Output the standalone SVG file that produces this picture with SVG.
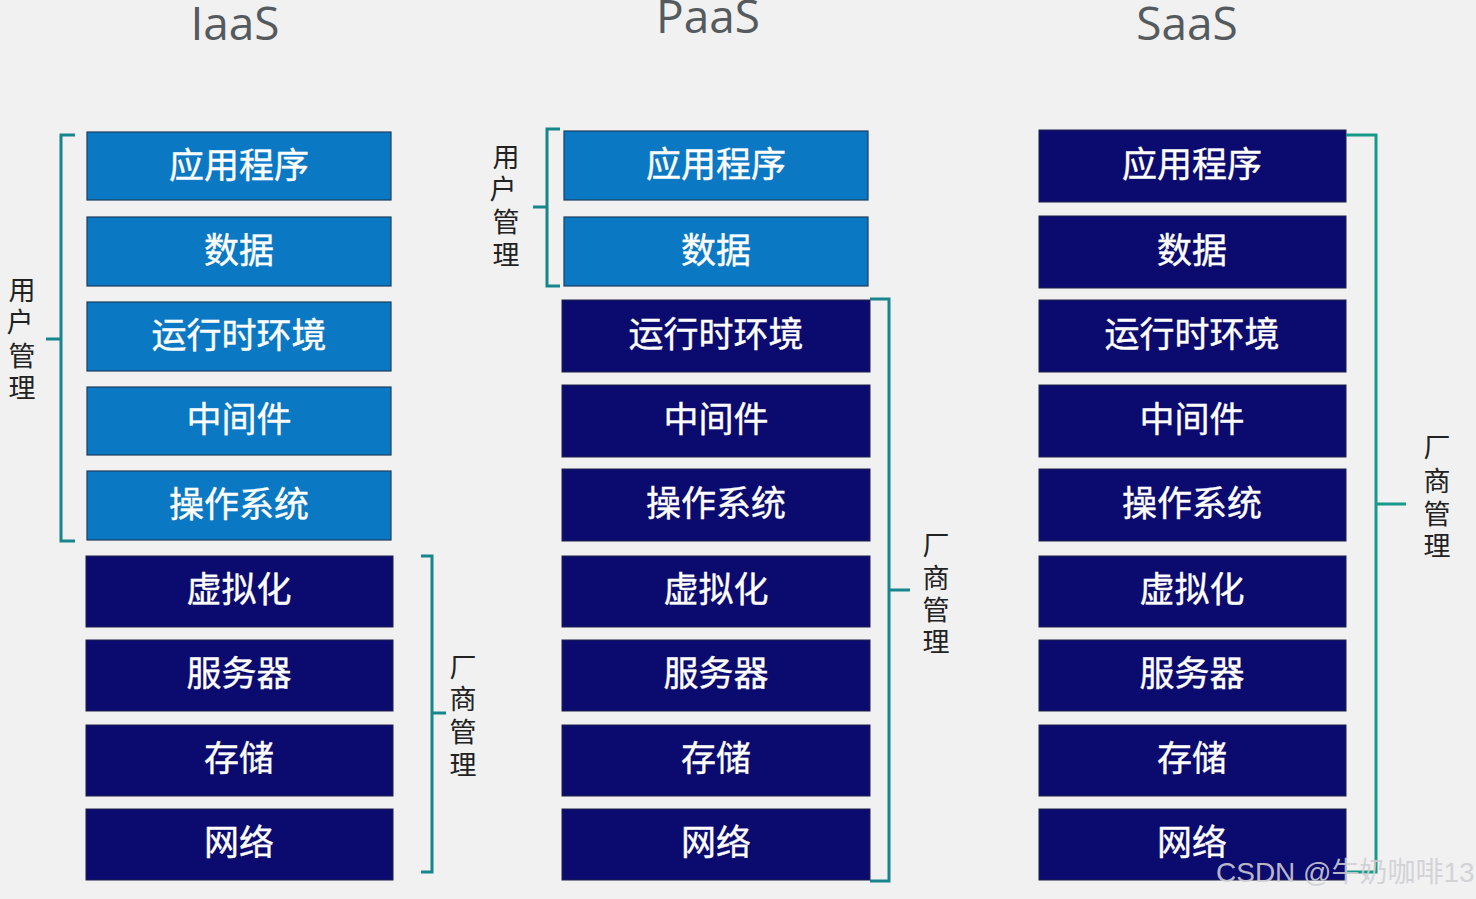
<svg xmlns="http://www.w3.org/2000/svg" width="1476" height="899" viewBox="0 0 1476 899">
<style>
.lb{fill:#0b78c4;stroke:#1d3c5e;stroke-width:1.2}
.db{fill:#0b0a6e;stroke:#20204a;stroke-width:1}
.bt{fill:#ffffff;font-family:"Noto Sans CJK SC","Noto Sans",sans-serif;font-size:35px;text-anchor:middle;stroke:#ffffff;stroke-width:0.4}
.ttl{fill:#555a5e;font-family:"Open Sans","Liberation Sans",sans-serif;font-size:46px;text-anchor:middle}
.vl{fill:#222;font-family:"Noto Sans CJK SC",sans-serif;font-size:27px;text-anchor:middle}
.br{fill:none;stroke:#17868c;stroke-width:3}
.br2{fill:none;stroke:#169a88;stroke-width:3}
.wm{fill:#cfcfd4;fill-opacity:0.9;font-family:"Liberation Sans","Noto Sans CJK SC",sans-serif;font-size:28px}
</style>
<rect width="1476" height="899" fill="#f1f1f1"/>
<text class="ttl" x="235" y="40">IaaS</text>
<text class="ttl" x="708" y="33">PaaS</text>
<text class="ttl" x="1187" y="40">SaaS</text>

<g id="iaas">
<g id="i1"><rect class="lb" x="87" y="132" width="304" height="68"/><text class="bt" x="239" y="178">应用程序</text></g>
<g id="i2"><rect class="lb" x="87" y="217" width="304" height="69"/><text class="bt" x="239" y="263">数据</text></g>
<g id="i3"><rect class="lb" x="87" y="302" width="304" height="69"/><text class="bt" x="239" y="348">运行时环境</text></g>
<g id="i4"><rect class="lb" x="87" y="387" width="304" height="68"/><text class="bt" x="239" y="432">中间件</text></g>
<g id="i5"><rect class="lb" x="87" y="471" width="304" height="69"/><text class="bt" x="239" y="517">操作系统</text></g>
<g id="i6"><rect class="db" x="86" y="556" width="307" height="71"/><text class="bt" x="239" y="602">虚拟化</text></g>
<g id="i7"><rect class="db" x="86" y="640" width="307" height="71"/><text class="bt" x="239" y="686">服务器</text></g>
<g id="i8"><rect class="db" x="86" y="725" width="307" height="71"/><text class="bt" x="239" y="771">存储</text></g>
<g id="i9"><rect class="db" x="86" y="809" width="307" height="71"/><text class="bt" x="239" y="855">网络</text></g>
</g>

<g id="paas">
<g id="p1"><rect class="lb" x="564" y="131" width="304" height="69"/><text class="bt" x="716" y="177">应用程序</text></g>
<g id="p2"><rect class="lb" x="564" y="217" width="304" height="69"/><text class="bt" x="716" y="263">数据</text></g>
<g id="p3"><rect class="db" x="562" y="300" width="308" height="72"/><text class="bt" x="716" y="347">运行时环境</text></g>
<g id="p4"><rect class="db" x="562" y="385" width="308" height="72"/><text class="bt" x="716" y="432">中间件</text></g>
<g id="p5"><rect class="db" x="562" y="469" width="308" height="72"/><text class="bt" x="716" y="516">操作系统</text></g>
<g id="p6"><rect class="db" x="562" y="556" width="308" height="71"/><text class="bt" x="716" y="602">虚拟化</text></g>
<g id="p7"><rect class="db" x="562" y="640" width="308" height="71"/><text class="bt" x="716" y="686">服务器</text></g>
<g id="p8"><rect class="db" x="562" y="725" width="308" height="71"/><text class="bt" x="716" y="771">存储</text></g>
<g id="p9"><rect class="db" x="562" y="809" width="308" height="71"/><text class="bt" x="716" y="855">网络</text></g>
</g>

<g id="saas">
<g id="s1"><rect class="db" x="1039" y="130" width="307" height="72"/><text class="bt" x="1192" y="177">应用程序</text></g>
<g id="s2"><rect class="db" x="1039" y="216" width="307" height="72"/><text class="bt" x="1192" y="263">数据</text></g>
<g id="s3"><rect class="db" x="1039" y="300" width="307" height="72"/><text class="bt" x="1192" y="347">运行时环境</text></g>
<g id="s4"><rect class="db" x="1039" y="385" width="307" height="72"/><text class="bt" x="1192" y="432">中间件</text></g>
<g id="s5"><rect class="db" x="1039" y="469" width="307" height="72"/><text class="bt" x="1192" y="516">操作系统</text></g>
<g id="s6"><rect class="db" x="1039" y="556" width="307" height="71"/><text class="bt" x="1192" y="602">虚拟化</text></g>
<g id="s7"><rect class="db" x="1039" y="640" width="307" height="71"/><text class="bt" x="1192" y="686">服务器</text></g>
<g id="s8"><rect class="db" x="1039" y="725" width="307" height="71"/><text class="bt" x="1192" y="771">存储</text></g>
<g id="s9"><rect class="db" x="1039" y="809" width="307" height="71"/><text class="bt" x="1192" y="855">网络</text></g>
</g>

<g id="connectors">
<path class="br" d="M75 135 H61 V541 H75 M61 339 H46"/>
<path class="br" d="M421 556 H432 V872 H421 M432 713 H446"/>
<path class="br" d="M560 129 H547 V286 H560 M547 207 H533"/>
<path class="br" d="M870 299 H889 V881 H870 M889 590 H910"/>
<path class="br2" d="M1346 135 H1376 V872 H1346 M1376 504 H1406"/>
</g>

<g id="labels">
<text class="vl"><tspan x="22" y="300">用</tspan><tspan x="20" y="332">户</tspan><tspan x="22" y="366">管</tspan><tspan x="22" y="398">理</tspan></text>
<text class="vl"><tspan x="463" y="677">厂</tspan><tspan x="463" y="709">商</tspan><tspan x="463" y="742">管</tspan><tspan x="463" y="775">理</tspan></text>
<text class="vl"><tspan x="506" y="167">用</tspan><tspan x="503" y="199">户</tspan><tspan x="506" y="232">管</tspan><tspan x="506" y="265">理</tspan></text>
<text class="vl"><tspan x="936" y="555">厂</tspan><tspan x="936" y="588">商</tspan><tspan x="936" y="620">管</tspan><tspan x="936" y="652">理</tspan></text>
<text class="vl"><tspan x="1437" y="457">厂</tspan><tspan x="1437" y="491">商</tspan><tspan x="1437" y="524">管</tspan><tspan x="1437" y="556">理</tspan></text>
</g>

<text class="wm" x="1216" y="882">CSDN @牛奶咖啡13</text>
</svg>
